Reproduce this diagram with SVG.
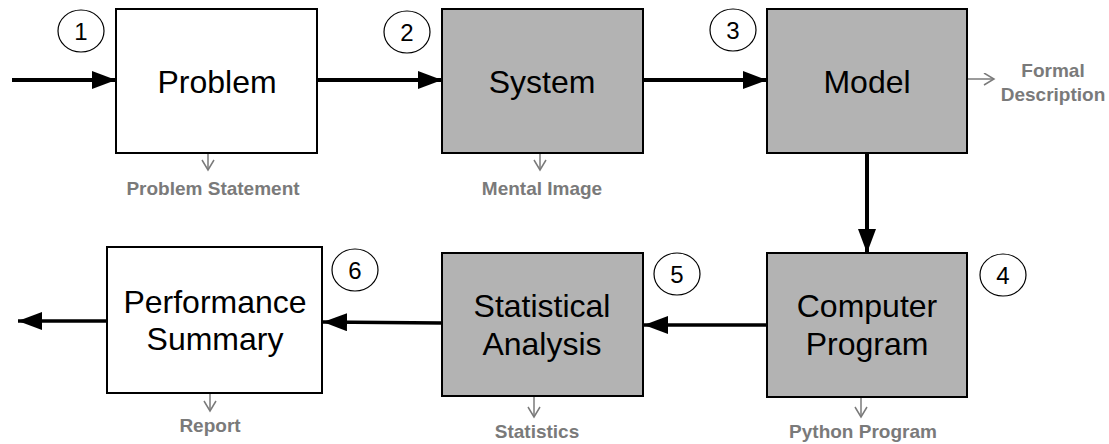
<svg xmlns="http://www.w3.org/2000/svg" width="1109" height="444" viewBox="0 0 1109 444">
<defs>
<marker id="ah" markerUnits="userSpaceOnUse" markerWidth="26" markerHeight="20" refX="24" refY="9" orient="auto">
<path d="M0,0 L24,9 L0,18 z" fill="#000"/>
</marker>
<marker id="gh" markerUnits="userSpaceOnUse" markerWidth="14" markerHeight="14" refX="11" refY="6.5" orient="auto">
<path d="M1,0.5 L11,6.5 L1,12.5" fill="none" stroke="#7a7a7a" stroke-width="1.5"/>
</marker>
</defs>
<style>
.box{stroke:#000;stroke-width:2}
.white{fill:#fff}
.gray{fill:#b3b3b3}
.t{font-family:"Liberation Sans",Arial,sans-serif;font-size:32px;fill:#000;text-anchor:middle}
.num{font-family:"Liberation Sans",Arial,sans-serif;font-size:24px;fill:#000;text-anchor:middle}
.lab{font-family:"Liberation Sans",Arial,sans-serif;font-size:19px;font-weight:bold;fill:#7a7a7a;text-anchor:middle}
.c{fill:#fff;stroke:#000;stroke-width:1.2}
.main{stroke:#000;stroke-width:4;fill:none;marker-end:url(#ah)}
.sub{stroke:#7a7a7a;stroke-width:1.5;fill:none;marker-end:url(#gh)}
</style>

<g id="connectors">
<line class="main" x1="12" y1="80" x2="116" y2="80"/>
<line class="main" x1="317" y1="80" x2="442" y2="80"/>
<line class="main" x1="643" y1="80" x2="767" y2="80"/>
<line class="main" x1="867" y1="153" x2="867" y2="253"/>
<line class="main" x1="767" y1="325" x2="644" y2="325" style="stroke-width:3.5"/>
<line class="main" x1="442" y1="323" x2="323" y2="322" style="stroke-width:3.5"/>
<line class="main" x1="107" y1="321" x2="18" y2="321" style="stroke-width:3.5"/>
<line class="sub" x1="208" y1="143" x2="208" y2="170"/>
<line class="sub" x1="540" y1="143" x2="540" y2="170"/>
<line class="sub" x1="958" y1="79" x2="994" y2="79"/>
<line class="sub" x1="861" y1="388" x2="861" y2="417"/>
<line class="sub" x1="534" y1="388" x2="534" y2="417"/>
<line class="sub" x1="210" y1="382" x2="210" y2="411"/>
</g>

<g id="problem">
<rect class="box white" x="116" y="9" width="201" height="144"/>
<text class="t" x="217" y="93">Problem</text>
<ellipse class="c" cx="81" cy="31" rx="23" ry="21"/>
<text class="num" x="81" y="40">1</text>
<text class="lab" x="213" y="195">Problem Statement</text>
</g>

<g id="system">
<rect class="box gray" x="442" y="9" width="201" height="144"/>
<text class="t" x="542" y="93">System</text>
<ellipse class="c" cx="407" cy="32" rx="23" ry="21"/>
<text class="num" x="407" y="41">2</text>
<text class="lab" x="542" y="195">Mental Image</text>
</g>

<g id="model">
<rect class="box gray" x="767" y="9" width="200" height="144"/>
<text class="t" x="867" y="93">Model</text>
<ellipse class="c" cx="733" cy="30" rx="23" ry="21"/>
<text class="num" x="733" y="39">3</text>
<text class="lab" x="1053" y="77">Formal</text>
<text class="lab" x="1053" y="101">Description</text>
</g>

<g id="computer-program">
<rect class="box gray" x="767" y="253" width="200" height="144"/>
<text class="t" x="867" y="317">Computer</text>
<text class="t" x="867" y="355">Program</text>
<ellipse class="c" cx="1003" cy="275" rx="23" ry="21"/>
<text class="num" x="1003" y="284">4</text>
<text class="lab" x="863" y="438">Python Program</text>
</g>

<g id="statistical-analysis">
<rect class="box gray" x="442" y="253" width="201" height="143"/>
<text class="t" x="542" y="317">Statistical</text>
<text class="t" x="542" y="355">Analysis</text>
<ellipse class="c" cx="677" cy="274" rx="23" ry="21"/>
<text class="num" x="677" y="283">5</text>
<text class="lab" x="537" y="438">Statistics</text>
</g>

<g id="performance-summary">
<rect class="box white" x="107" y="247" width="215" height="146"/>
<text class="t" x="215" y="313">Performance</text>
<text class="t" x="215" y="350">Summary</text>
<ellipse class="c" cx="355" cy="270" rx="23" ry="21"/>
<text class="num" x="355" y="279">6</text>
<text class="lab" x="210" y="432">Report</text>
</g>
</svg>
